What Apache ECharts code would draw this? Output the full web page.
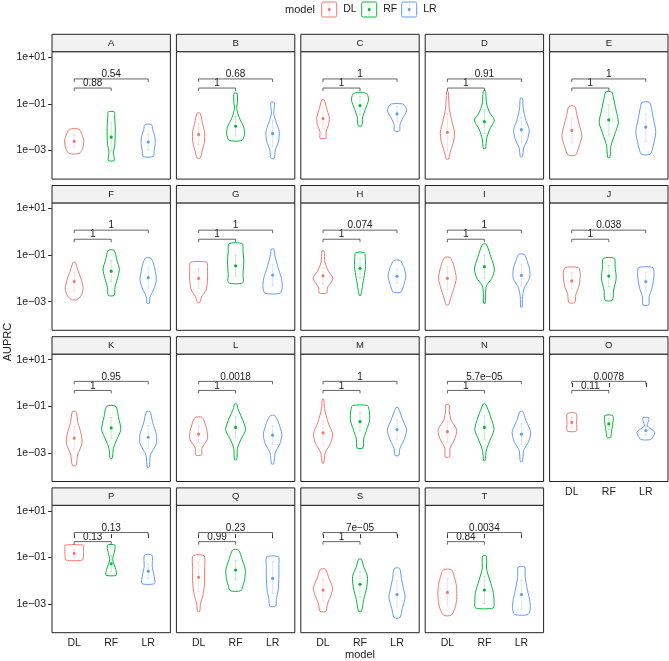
<!DOCTYPE html>
<html><head><meta charset="utf-8">
<script src="https://cdn.jsdelivr.net/npm/echarts@6/dist/echarts.min.js"></script>
<style>html,body{margin:0;padding:0;background:#fff}#c{width:669px;height:661px}</style>
</head><body><div id="c"></div>
<script>
// ---------- data ----------
const panels = ['A','B','C','D','E','F','G','H','I','J','K','L','M','N','O','P','Q','S','T'];
const models = ['DL','RF','LR'];
const colors = ['#F8766D','#00BA38','#619CFF'];
const yTickValues = [-3, -1, 1];               // log10(AUPRC)
const yTickLabels = ['1e\u221203','1e\u221201','1e+01'];
const xTickValues = [1, 2, 3];
const pDLRF = ['0.88','1','1','1','1','1','1','1','1','1','1','1','1','1','0.11','0.13','0.99','1','0.84'];
const pDLLR = ['0.54','0.68','1','0.91','1','1','1','0.074','1','0.038','0.95','0.0018','1','5.7e\u221205','0.0078','0.13','0.23','7e\u221205','0.0034'];

// violin profiles: [log10(AUPRC), half-width of density] from bottom to top
const violinDL = [
 [[-3.13,0.13],[-2.95,0.22],[-2.6,0.26],[-2.35,0.22],[-2.09,0.13]],
 [[-3.33,0.04],[-3.0,0.1],[-2.6,0.16],[-2.2,0.16],[-1.8,0.1],[-1.4,0.04]],
 [[-2.47,0.08],[-2.2,0.08],[-1.9,0.15],[-1.6,0.17],[-1.2,0.1],[-0.83,0.03]],
 [[-3.37,0.03],[-3.0,0.09],[-2.6,0.17],[-2.2,0.19],[-1.8,0.13],[-1.2,0.05],[-0.47,0.02]],
 [[-3.2,0.1],[-2.9,0.18],[-2.4,0.27],[-2.0,0.22],[-1.5,0.14],[-1.11,0.08]],
 [[-2.91,0.08],[-2.7,0.2],[-2.4,0.24],[-2.0,0.18],[-1.6,0.09],[-1.31,0.03]],
 [[-3.04,0.03],[-2.8,0.08],[-2.5,0.2],[-2.1,0.24],[-1.6,0.24],[-1.31,0.22]],
 [[-2.63,0.1],[-2.4,0.12],[-2.0,0.27],[-1.7,0.15],[-1.3,0.05],[-0.83,0.03]],
 [[-3.14,0.03],[-2.8,0.1],[-2.4,0.18],[-2.0,0.24],[-1.5,0.18],[-1.11,0.08]],
 [[-3.04,0.08],[-2.7,0.11],[-2.3,0.2],[-1.8,0.23],[-1.54,0.18]],
 [[-3.54,0.05],[-3.1,0.09],[-2.6,0.21],[-2.2,0.19],[-1.7,0.1],[-1.23,0.05]],
 [[-3.09,0.08],[-2.8,0.09],[-2.4,0.24],[-2.0,0.22],[-1.6,0.14],[-1.47,0.08]],
 [[-3.44,0.02],[-3.0,0.06],[-2.6,0.2],[-2.2,0.26],[-1.7,0.14],[-1.1,0.04],[-0.69,0.02]],
 [[-3.17,0.06],[-2.8,0.07],[-2.4,0.2],[-2.0,0.25],[-1.6,0.1],[-1.2,0.05],[-0.94,0.05]],
 [[-2.06,0.12],[-1.7,0.13],[-1.31,0.12]],
 [[-1.11,0.22],[-0.9,0.25],[-0.6,0.25],[-0.47,0.25]],
 [[-3.31,0.03],[-3.0,0.05],[-2.6,0.12],[-2.1,0.16],[-1.5,0.16],[-0.93,0.15]],
 [[-3.31,0.08],[-3.0,0.12],[-2.6,0.22],[-2.3,0.26],[-1.9,0.16],[-1.51,0.07]],
 [[-3.48,0.1],[-3.2,0.2],[-2.8,0.25],[-2.3,0.25],[-1.9,0.2],[-1.53,0.11]]
];
const violinRF = [
 [[-3.43,0.08],[-3.1,0.06],[-2.7,0.1],[-2.0,0.11],[-1.5,0.09],[-1.34,0.08]],
 [[-2.57,0.17],[-2.3,0.24],[-2.0,0.22],[-1.6,0.1],[-1.2,0.03],[-0.9,0.05],[-0.6,0.05],[-0.54,0.04]],
 [[-1.94,0.05],[-1.6,0.07],[-1.2,0.15],[-0.85,0.23],[-0.6,0.2],[-0.51,0.1]],
 [[-2.91,0.03],[-2.5,0.06],[-2.1,0.14],[-1.7,0.27],[-1.4,0.15],[-1.0,0.06],[-0.6,0.04],[-0.43,0.02]],
 [[-3.3,0.03],[-2.8,0.06],[-2.3,0.16],[-1.8,0.26],[-1.3,0.2],[-0.7,0.12],[-0.49,0.08]],
 [[-2.73,0.08],[-2.4,0.1],[-2.0,0.17],[-1.6,0.22],[-1.2,0.15],[-0.8,0.08]],
 [[-2.19,0.19],[-1.8,0.2],[-1.3,0.22],[-0.8,0.2],[-0.51,0.18]],
 [[-2.73,0.02],[-2.4,0.06],[-2.0,0.1],[-1.5,0.15],[-1.1,0.14],[-0.9,0.12]],
 [[-3.07,0.02],[-2.6,0.03],[-2.3,0.06],[-2.0,0.2],[-1.6,0.27],[-1.1,0.18],[-0.54,0.05]],
 [[-2.94,0.1],[-2.5,0.13],[-2.0,0.2],[-1.5,0.17],[-1.14,0.15]],
 [[-3.23,0.03],[-2.8,0.06],[-2.4,0.16],[-2.0,0.26],[-1.5,0.2],[-1.0,0.12]],
 [[-3.29,0.03],[-2.8,0.05],[-2.4,0.15],[-2.0,0.27],[-1.5,0.17],[-1.1,0.06],[-0.9,0.03]],
 [[-2.79,0.08],[-2.4,0.1],[-2.0,0.18],[-1.6,0.26],[-1.2,0.25],[-0.97,0.2]],
 [[-3.33,0.02],[-2.9,0.05],[-2.5,0.14],[-2.0,0.26],[-1.5,0.18],[-0.9,0.03]],
 [[-2.34,0.05],[-2.1,0.07],[-1.7,0.11],[-1.4,0.11]],
 [[-1.76,0.14],[-1.5,0.12],[-1.1,0.04],[-0.8,0.08],[-0.47,0.1]],
 [[-2.43,0.14],[-2.2,0.2],[-1.9,0.25],[-1.5,0.26],[-1.1,0.18],[-0.68,0.08]],
 [[-3.31,0.04],[-2.8,0.1],[-2.3,0.18],[-1.8,0.2],[-1.4,0.1],[-1.08,0.04]],
 [[-3.17,0.24],[-2.9,0.26],[-2.5,0.24],[-2.0,0.15],[-1.5,0.06],[-0.94,0.05]]
];
const violinLR = [
 [[-3.26,0.14],[-3.0,0.16],[-2.7,0.19],[-2.4,0.18],[-2.1,0.12],[-1.89,0.09]],
 [[-3.33,0.05],[-3.0,0.07],[-2.6,0.16],[-2.2,0.18],[-1.8,0.1],[-1.4,0.03],[-1.1,0.05],[-0.93,0.04]],
 [[-2.16,0.07],[-1.9,0.08],[-1.6,0.16],[-1.3,0.26],[-1.1,0.22],[-1.0,0.14]],
 [[-3.26,0.03],[-2.9,0.06],[-2.5,0.17],[-2.1,0.21],[-1.7,0.12],[-1.2,0.05],[-0.76,0.03]],
 [[-3.16,0.12],[-2.8,0.2],[-2.2,0.27],[-1.6,0.2],[-1.1,0.14],[-0.93,0.1]],
 [[-3.07,0.03],[-2.8,0.05],[-2.5,0.14],[-2.1,0.22],[-1.6,0.18],[-1.14,0.08]],
 [[-2.64,0.2],[-2.4,0.26],[-2.0,0.24],[-1.5,0.14],[-1.0,0.06],[-0.74,0.03]],
 [[-2.59,0.1],[-2.3,0.18],[-1.9,0.24],[-1.5,0.18],[-1.23,0.08]],
 [[-3.23,0.02],[-2.8,0.03],[-2.4,0.08],[-2.0,0.22],[-1.6,0.22],[-1.2,0.14],[-0.97,0.08]],
 [[-3.14,0.08],[-2.8,0.09],[-2.4,0.17],[-1.9,0.22],[-1.54,0.19]],
 [[-3.61,0.03],[-3.1,0.06],[-2.6,0.22],[-2.2,0.22],[-1.7,0.12],[-1.23,0.05]],
 [[-3.47,0.03],[-3.0,0.07],[-2.6,0.2],[-2.2,0.25],[-1.7,0.16],[-1.4,0.06]],
 [[-3.11,0.05],[-2.8,0.08],[-2.4,0.2],[-2.0,0.26],[-1.6,0.16],[-1.06,0.03]],
 [[-3.37,0.03],[-2.9,0.06],[-2.5,0.2],[-2.1,0.25],[-1.6,0.12],[-1.23,0.04]],
 [[-2.43,0.13],[-2.3,0.2],[-2.1,0.24],[-1.85,0.04],[-1.6,0.08],[-1.49,0.08]],
 [[-2.12,0.17],[-1.8,0.16],[-1.4,0.11],[-0.9,0.1]],
 [[-3.09,0.08],[-2.8,0.1],[-2.4,0.15],[-1.8,0.17],[-1.3,0.17],[-0.97,0.16]],
 [[-3.58,0.08],[-3.2,0.14],[-2.7,0.22],[-2.3,0.17],[-1.9,0.12],[-1.47,0.07]],
 [[-3.45,0.18],[-3.2,0.24],[-2.8,0.22],[-2.3,0.15],[-1.8,0.1],[-1.41,0.09]]
];
// means (log10)
const meanDL = [-2.61,-2.31,-1.63,-2.22,-2.14,-2.14,-2.0,-1.89,-2.0,-2.11,-2.37,-2.2,-2.14,-2.09,-1.69,-0.82,-1.85,-2.4,-2.5];
const meanRF = [-2.43,-1.96,-1.07,-1.76,-1.69,-1.69,-1.46,-1.57,-1.5,-1.9,-1.93,-1.91,-1.66,-1.91,-1.76,-1.27,-1.54,-2.15,-2.4];
const meanLR = [-2.64,-2.27,-1.43,-2.11,-2.0,-1.97,-1.86,-1.91,-1.87,-2.14,-2.33,-2.24,-2.0,-2.2,-2.04,-1.59,-1.9,-2.59,-2.59];
// mean ± sd ranges (log10)
const sdDL = [[-2.89,-2.33],[-2.76,-1.86],[-2.08,-1.18],[-3.02,-1.42],[-2.67,-1.61],[-2.54,-1.74],[-2.42,-1.58],[-2.24,-1.54],[-2.5,-1.5],[-2.46,-1.76],[-2.87,-1.87],[-2.55,-1.85],[-2.64,-1.64],[-2.54,-1.64],[-1.9,-1.48],[-1.0,-0.64],[-2.48,-1.2],[-2.88,-1.93],[-3.05,-1.9]];
const sdRF = [[-3.03,-1.83],[-2.38,-1.54],[-1.47,-0.67],[-2.28,-1.24],[-2.34,-1.04],[-2.14,-1.24],[-1.91,-1.01],[-1.99,-1.15],[-2.0,-1.0],[-2.35,-1.45],[-2.38,-1.48],[-2.36,-1.46],[-2.06,-1.26],[-2.41,-1.41],[-2.0,-1.52],[-1.62,-0.92],[-1.95,-1.13],[-2.72,-1.59],[-2.98,-1.8]];
const sdLR = [[-2.99,-2.29],[-2.82,-1.72],[-1.75,-1.11],[-2.64,-1.58],[-2.62,-1.44],[-2.42,-1.52],[-2.31,-1.41],[-2.21,-1.61],[-2.32,-1.42],[-2.54,-1.74],[-2.83,-1.83],[-2.64,-1.84],[-2.42,-1.58],[-2.65,-1.75],[-2.24,-1.84],[-1.9,-1.28],[-2.55,-1.19],[-3.12,-2.0],[-3.22,-1.97]];

// ---------- layout / style ----------
const FONT = '"Liberation Sans", Arial, Helvetica, sans-serif';
const colLeft = [52, 176.4, 300.8, 425.2, 549.6];
const rowTop = [51.7, 202.9, 354.1, 505.3];
const PW = 118.4, PH = 127.4, SH = 17.4;
const YMIN = -4.23, YMAX = 1.24;
const BR_LOW = -0.32, BR_HIGH = 0.07;

const profiles = [violinDL, violinRF, violinLR];
const means = [meanDL, meanRF, meanLR];
const sds = [sdDL, sdRF, sdLR];

function violinRender(p) {
  return function (params, api) {
    const m = params.dataIndex;
    const prof = profiles[m][p];
    const x = m + 1;
    const right = prof.map(d => api.coord([x + d[1], d[0]]));
    const left = prof.slice().reverse().map(d => api.coord([x - d[1], d[0]]));
    const c = colors[m];
    const pm = api.coord([x, means[m][p]]);
    const lo = api.coord([x, sds[m][p][0]]), hi = api.coord([x, sds[m][p][1]]);
    const cw = api.size([0.04, 0])[0];
    return {
      type: 'group',
      children: [
        { type: 'polygon', shape: { points: right.concat(left), smooth: 0.25 },
          style: { fill: 'rgba(255,255,255,0)', stroke: c, lineWidth: 1 } },
        { type: 'line', shape: { x1: lo[0], y1: lo[1], x2: hi[0], y2: hi[1] },
          style: { stroke: c, opacity: 0.3, lineWidth: 0.8 } },
        { type: 'line', shape: { x1: lo[0] - cw, y1: lo[1], x2: lo[0] + cw, y2: lo[1] },
          style: { stroke: c, opacity: 0.3, lineWidth: 0.8 } },
        { type: 'line', shape: { x1: hi[0] - cw, y1: hi[1], x2: hi[0] + cw, y2: hi[1] },
          style: { stroke: c, opacity: 0.3, lineWidth: 0.8 } },
        { type: 'circle', shape: { cx: pm[0], cy: pm[1], r: 1.6 }, style: { fill: c } }
      ]
    };
  };
}
function bracketRender(p) {
  return function (params, api) {
    const i = params.dataIndex;
    const y = i === 0 ? BR_LOW : BR_HIGH;
    const x2 = i === 0 ? 2 : 3;
    const a = api.coord([1, y]), b = api.coord([x2, y]);
    const tip = 3;
    const label = i === 0 ? pDLRF[p] : pDLLR[p];
    return {
      type: 'group',
      children: [
        { type: 'polyline', shape: { points: [[a[0], a[1] + tip], [a[0], a[1]], [b[0], b[1]], [b[0], b[1] + tip]] },
          style: { stroke: '#555', lineWidth: 0.9, fill: null } },
        { type: 'text', x: (a[0] + b[0]) / 2, y: a[1] + 0.5,
          style: { text: label, fontSize: 10, fontFamily: FONT, fill: '#1a1a1a', align: 'center', verticalAlign: 'bottom' } }
      ]
    };
  };
}

const grids = [], xAxes = [], yAxes = [], series = [], graphics = [];
panels.forEach((name, p) => {
  const r = Math.floor(p / 5), c = p % 5;
  const left = colLeft[c], top = rowTop[r];
  grids.push({ left: left, top: top, width: PW, height: PH, show: true,
    borderColor: '#222', borderWidth: 1, backgroundColor: '#fff' });
  const showX = (r === 3) || (p === 14);
  const showY = c === 0;
  xAxes.push({ gridIndex: p, type: 'value', min: 0.4, max: 3.6,
    axisLine: { show: false }, splitLine: { show: false },
    axisTick: { show: showX, length: 4, lineStyle: { color: '#333' }, customValues: xTickValues },
    axisLabel: { show: showX, margin: 5, fontSize: 10.5, color: '#222', fontFamily: FONT,
      customValues: xTickValues, formatter: v => models[Math.round(v) - 1] } });
  yAxes.push({ gridIndex: p, type: 'value', min: YMIN, max: YMAX,
    axisLine: { show: false }, splitLine: { show: false },
    axisTick: { show: showY, length: 4, lineStyle: { color: '#333' }, customValues: yTickValues },
    axisLabel: { show: showY, margin: 6, fontSize: 10.5, color: '#222', fontFamily: FONT,
      customValues: yTickValues, formatter: v => yTickLabels[yTickValues.indexOf(Math.round(v))] } });
  series.push({ type: 'custom', xAxisIndex: p, yAxisIndex: p, renderItem: violinRender(p),
    data: models.map((m, i) => [i + 1, means[i][p]]), encode: { x: 0, y: 1 }, silent: true, z: 3 });
  series.push({ type: 'custom', xAxisIndex: p, yAxisIndex: p, renderItem: bracketRender(p),
    data: [[1.5, BR_LOW], [2, BR_HIGH]], encode: { x: 0, y: 1 }, silent: true, z: 4 });
  // strip
  graphics.push({ type: 'rect', shape: { x: left, y: top - SH, width: PW, height: SH },
    style: { fill: '#F2F2F2', stroke: '#222', lineWidth: 1 }, z: 10 });
  graphics.push({ type: 'text', x: left + PW / 2, y: top - SH / 2,
    style: { text: name, fontSize: 9.5, fontFamily: FONT, fill: '#1a1a1a', align: 'center', verticalAlign: 'middle' }, z: 11 });
});

// legend
graphics.push({ type: 'text', x: 285, y: 9.5,
  style: { text: 'model', fontSize: 11, fontFamily: FONT, fill: '#1a1a1a', align: 'left', verticalAlign: 'middle' }, z: 11 });
const keyX = [321.7, 361.7, 401.7];
models.forEach((m, i) => {
  const kx = keyX[i];
  graphics.push({ type: 'rect', shape: { x: kx, y: 2, width: 15, height: 15, r: 1.5 },
    style: { fill: '#fff', stroke: colors[i], lineWidth: 1 }, z: 11 });
  graphics.push({ type: 'line', shape: { x1: kx + 7.5, y1: 3.5, x2: kx + 7.5, y2: 15.5 },
    style: { stroke: colors[i], opacity: 0.3, lineWidth: 0.8 }, z: 11 });
  graphics.push({ type: 'circle', shape: { cx: kx + 7.5, cy: 9.5, r: 1.6 },
    style: { fill: colors[i] }, z: 12 });
  graphics.push({ type: 'text', x: kx + 21.5, y: 9.5,
    style: { text: m, fontSize: 10.5, fontFamily: FONT, fill: '#1a1a1a', align: 'left', verticalAlign: 'middle' }, z: 11 });
});
// axis titles
graphics.push({ type: 'text', x: 360, y: 655,
  style: { text: 'model', fontSize: 11, fontFamily: FONT, fill: '#1a1a1a', align: 'center', verticalAlign: 'middle' }, z: 11 });
graphics.push({ type: 'text', x: 8, y: 342, rotation: Math.PI / 2,
  style: { text: 'AUPRC', fontSize: 11, fontFamily: FONT, fill: '#1a1a1a', align: 'center', verticalAlign: 'middle' }, z: 11 });

const chart = echarts.init(document.getElementById('c'), null, { renderer: 'canvas' });
chart.setOption({
  animation: false,
  backgroundColor: '#fff',
  grid: grids, xAxis: xAxes, yAxis: yAxes, series: series,
  graphic: { elements: graphics }
});
</script></body></html>
